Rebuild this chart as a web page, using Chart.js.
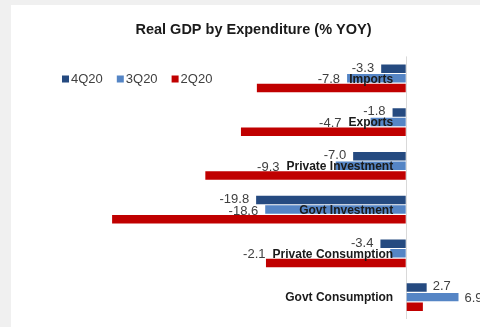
<!DOCTYPE html>
<html>
<head>
<meta charset="utf-8">
<script src="https://cdn.jsdelivr.net/npm/chart.js@4"></script>
<style>
  html, body { margin: 0; padding: 0; background: #fff; overflow: hidden; width: 480px; height: 327px; }
  .band { position: absolute; background: #f0f0f0; }
  #top { left: 0; top: 0; width: 480px; height: 5px; }
  #left { left: 0; top: 0; width: 11px; height: 327px; }
  #wrap { position: absolute; left: 11px; top: 5px; width: 471px; height: 322px; }
</style>
</head>
<body>
<div class="band" id="top"></div>
<div class="band" id="left"></div>
<div id="wrap"><canvas id="gdpChart"></canvas></div>
<script>
var categories = ['Imports', 'Exports', 'Private Investment', 'Govt Investment', 'Private Consumption', 'Govt Consumption'];
var q4_20 = [-3.3, -1.8, -7.0, -19.8, -3.4, 2.7];
var q3_20 = [-7.8, -4.7, -9.3, -18.6, -2.1, 6.9];
var q2_20 = [-19.7, -21.8, -26.5, -38.8, -18.5, 2.2];

var FONT = "'Liberation Sans', Arial, sans-serif";

// category names sit just left of the zero line, on the middle bar
var catLabels = {
  id: 'catLabels',
  afterDatasetsDraw: function (chart) {
    var c = chart.ctx;
    var x0 = chart.scales.x.getPixelForValue(0);
    var mid = chart.getDatasetMeta(1).data;
    c.save();
    c.font = 'bold 12px ' + FONT;
    c.fillStyle = '#1a1a1a';
    c.textAlign = 'right';
    c.textBaseline = 'middle';
    chart.data.labels.forEach(function (lab, i) {
      c.fillText(lab, x0 - 13, mid[i].y + 1);
    });
    c.restore();
  }
};

// value labels for 4Q20 and 3Q20 only
var valueLabels = {
  id: 'valueLabels',
  afterDraw: function (chart) {
    var c = chart.ctx;
    var x0 = chart.scales.x.getPixelForValue(0);
    c.save();
    c.font = 'bold 12px ' + FONT;
    var catLeft = chart.data.labels.map(function (l) { return x0 - 13 - c.measureText(l).width; });
    c.font = '13px ' + FONT;
    c.fillStyle = '#404040';
    c.textBaseline = 'middle';
    [0, 1].forEach(function (di) {
      var ds = chart.data.datasets[di];
      chart.getDatasetMeta(di).data.forEach(function (bar, i) {
        var v = ds.data[i];
        var txt = v.toFixed(1);
        if (v < 0) {
          c.textAlign = 'right';
          var x = bar.x;
          if (di === 1) x = Math.min(bar.x, catLeft[i]);
          c.fillText(txt, x - 7, bar.y + (di === 0 ? -0.5 : 1.5));
        } else {
          c.textAlign = 'left';
          c.fillText(txt, bar.x + 6, bar.y + (di === 0 ? -1 : 1));
        }
      });
    });
    c.restore();
  }
};

// legend drawn at the upper left of the plot
var sideLegend = {
  id: 'sideLegend',
  afterDraw: function (chart) {
    var c = chart.ctx;
    var x = chart.chartArea.left - 41;
    var y = 74;
    c.save();
    c.font = '13px ' + FONT;
    c.textBaseline = 'middle';
    c.textAlign = 'left';
    chart.data.datasets.forEach(function (ds) {
      c.fillStyle = ds.backgroundColor;
      c.fillRect(x, y - 3.5, 7, 7);
      c.fillStyle = '#404040';
      c.fillText(ds.label, x + 9, y);
      x += 9 + c.measureText(ds.label).width + 14;
    });
    c.restore();
  }
};

new Chart(document.getElementById('gdpChart'), {
  type: 'bar',
  data: {
    labels: categories,
    datasets: [
      { label: '4Q20', data: q4_20, backgroundColor: '#254a80' },
      { label: '3Q20', data: q3_20, backgroundColor: '#5585c5' },
      { label: '2Q20', data: q2_20, backgroundColor: '#c00000' }
    ]
  },
  options: {
    indexAxis: 'y',
    responsive: true,
    maintainAspectRatio: false,
    animation: false,
    categoryPercentage: 0.66,
    barPercentage: 0.88,
    layout: { padding: { left: 14, right: 0, top: 0, bottom: 8 } },
    scales: {
      x: {
        min: -40,
        max: 10,
        ticks: { display: false, stepSize: 10 },
        border: { display: false },
        grid: {
          drawTicks: false,
          lineWidth: 1,
          color: function (ctx) { return ctx.tick && ctx.tick.value === 0 ? '#d9d9d9' : 'rgba(0,0,0,0)'; }
        }
      },
      y: {
        display: true,
        ticks: { display: false },
        grid: { display: false },
        border: { display: false },
        afterFit: function (scale) { scale.width = 78; }
      }
    },
    plugins: {
      legend: { display: false },
      tooltip: { enabled: false },
      title: {
        display: true,
        text: 'Real GDP by Expenditure (% YOY)',
        color: '#1a1a1a',
        font: { family: FONT, size: 14.5, weight: 'bold' },
        padding: { top: 16, bottom: 18 }
      }
    }
  },
  plugins: [catLabels, valueLabels, sideLegend]
});
</script>
</body>
</html>
